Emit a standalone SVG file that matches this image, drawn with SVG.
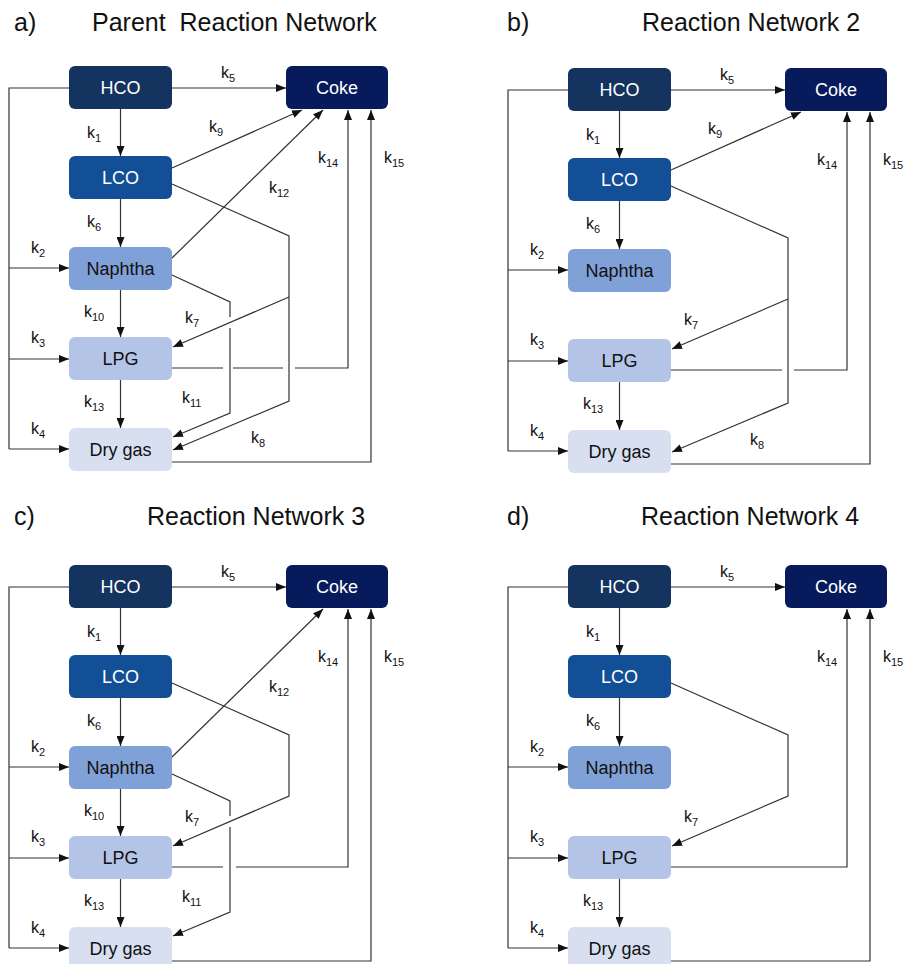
<svg xmlns="http://www.w3.org/2000/svg" width="907" height="964" viewBox="0 0 907 964">
<defs>
<marker id="ah" viewBox="0 0 10 8" refX="10" refY="4" markerWidth="10" markerHeight="8" markerUnits="userSpaceOnUse" orient="auto">
<path d="M0,0 L10,4 L0,8 z" fill="#111"/>
</marker>
<style>
.ln{fill:none;stroke:#333;stroke-width:1.2}
.ar{marker-end:url(#ah)}
.lbl{font-family:"Liberation Sans",Arial,sans-serif;font-size:16px;fill:#111}
.s{font-size:11px}
.nt{font-family:"Liberation Sans",Arial,sans-serif;font-size:18px;text-anchor:middle}
.w{fill:#fff}
.dk{fill:#111}
.ttl{font-family:"Liberation Sans",Arial,sans-serif;font-size:25px;fill:#111}
.hco{fill:#14335f}
.coke{fill:#071b5c}
.lco{fill:#134f97}
.nap{fill:#80a0d8}
.lpg{fill:#b3c4e7}
.dry{fill:#d7dff1}
</style>
</defs>
<rect width="907" height="964" fill="#fff"/>

<!-- Titles -->
<text class="ttl" x="14" y="31">a)</text>
<text class="ttl" x="92" y="31" xml:space="preserve">Parent  Reaction Network</text>
<text class="ttl" x="507" y="31">b)</text>
<text class="ttl" x="642" y="31">Reaction Network 2</text>
<text class="ttl" x="14" y="525">c)</text>
<text class="ttl" x="147" y="525">Reaction Network 3</text>
<text class="ttl" x="507" y="525">d)</text>
<text class="ttl" x="641" y="525">Reaction Network 4</text>

<!-- ========== Panel a ========== -->
<g id="panel-a">
<g id="a-connectors">
<path class="ln" d="M69,88 H9 V449"/>
<path class="ln ar" d="M9,449 H69"/>
<path class="ln ar" d="M9,268 H69"/>
<path class="ln ar" d="M9,359 H69"/>
<path class="ln ar" d="M172,88 H286"/>
<path class="ln ar" d="M120.5,109 V156"/>
<path class="ln ar" d="M120.5,199 V247"/>
<path class="ln ar" d="M120.5,290 V337"/>
<path class="ln ar" d="M120.5,380 V428"/>
<path class="ln ar" d="M172,168 L302,110"/>
<path class="ln ar" d="M172,258 L323,110"/>
<path class="ln ar" d="M172,184 L289,236 V401 L173,450"/>
<path class="ln ar" d="M289,297 L173,347"/>
<path class="ln" d="M172,275 L230,302 V317"/>
<path class="ln ar" d="M230,328 V413 L173,437"/>
<path class="ln" d="M172,368 H223 M233,368 H283"/>
<path class="ln ar" d="M295,368 H348 V110"/>
<path class="ln ar" d="M172,462 H371 V110"/>
</g>
<g id="a-labels">
<text class="lbl" x="221" y="78">k<tspan class="s" dy="4">5</tspan></text>
<text class="lbl" x="87" y="138">k<tspan class="s" dy="4">1</tspan></text>
<text class="lbl" x="209" y="132">k<tspan class="s" dy="4">9</tspan></text>
<text class="lbl" x="269" y="193">k<tspan class="s" dy="4">12</tspan></text>
<text class="lbl" x="318" y="163">k<tspan class="s" dy="4">14</tspan></text>
<text class="lbl" x="384" y="163">k<tspan class="s" dy="4">15</tspan></text>
<text class="lbl" x="87" y="227">k<tspan class="s" dy="4">6</tspan></text>
<text class="lbl" x="31" y="253">k<tspan class="s" dy="4">2</tspan></text>
<text class="lbl" x="84" y="317">k<tspan class="s" dy="4">10</tspan></text>
<text class="lbl" x="185" y="323">k<tspan class="s" dy="4">7</tspan></text>
<text class="lbl" x="31" y="343">k<tspan class="s" dy="4">3</tspan></text>
<text class="lbl" x="84" y="407">k<tspan class="s" dy="4">13</tspan></text>
<text class="lbl" x="182" y="403">k<tspan class="s" dy="4">11</tspan></text>
<text class="lbl" x="31" y="434">k<tspan class="s" dy="4">4</tspan></text>
<text class="lbl" x="251" y="443">k<tspan class="s" dy="4">8</tspan></text>
</g>
<g id="a-hco"><rect class="hco" x="69" y="66" width="103" height="43" rx="6"/><text class="nt w" x="120.5" y="94">HCO</text></g>
<g id="a-coke"><rect class="coke" x="286" y="66" width="102" height="43" rx="6"/><text class="nt w" x="337" y="94">Coke</text></g>
<g id="a-lco"><rect class="lco" x="69" y="156" width="103" height="43" rx="6"/><text class="nt w" x="120.5" y="184">LCO</text></g>
<g id="a-naphtha"><rect class="nap" x="69" y="247" width="103" height="43" rx="6"/><text class="nt dk" x="120.5" y="275">Naphtha</text></g>
<g id="a-lpg"><rect class="lpg" x="69" y="337" width="103" height="43" rx="6"/><text class="nt dk" x="120.5" y="365">LPG</text></g>
<g id="a-drygas"><rect class="dry" x="69" y="428" width="103" height="43" rx="6"/><text class="nt dk" x="120.5" y="456">Dry gas</text></g>
</g>

<!-- ========== Panel b ========== -->
<g id="panel-b" transform="translate(499,2)">
<g id="b-connectors">
<path class="ln" d="M69,88 H9 V449"/>
<path class="ln ar" d="M9,449 H69"/>
<path class="ln ar" d="M9,268 H69"/>
<path class="ln ar" d="M9,359 H69"/>
<path class="ln ar" d="M172,88 H286"/>
<path class="ln ar" d="M120.5,109 V156"/>
<path class="ln ar" d="M120.5,199 V247"/>
<path class="ln ar" d="M120.5,380 V428"/>
<path class="ln ar" d="M172,168 L302,110"/>
<path class="ln ar" d="M172,184 L289,236 V401 L173,450"/>
<path class="ln ar" d="M289,297 L173,347"/>
<path class="ln" d="M172,368 H283"/>
<path class="ln ar" d="M295,368 H348 V110"/>
<path class="ln ar" d="M172,462 H371 V110"/>
</g>
<g id="b-labels">
<text class="lbl" x="221" y="78">k<tspan class="s" dy="4">5</tspan></text>
<text class="lbl" x="87" y="138">k<tspan class="s" dy="4">1</tspan></text>
<text class="lbl" x="209" y="132">k<tspan class="s" dy="4">9</tspan></text>
<text class="lbl" x="318" y="163">k<tspan class="s" dy="4">14</tspan></text>
<text class="lbl" x="384" y="163">k<tspan class="s" dy="4">15</tspan></text>
<text class="lbl" x="87" y="227">k<tspan class="s" dy="4">6</tspan></text>
<text class="lbl" x="31" y="253">k<tspan class="s" dy="4">2</tspan></text>
<text class="lbl" x="185" y="323">k<tspan class="s" dy="4">7</tspan></text>
<text class="lbl" x="31" y="343">k<tspan class="s" dy="4">3</tspan></text>
<text class="lbl" x="84" y="407">k<tspan class="s" dy="4">13</tspan></text>
<text class="lbl" x="31" y="434">k<tspan class="s" dy="4">4</tspan></text>
<text class="lbl" x="251" y="443">k<tspan class="s" dy="4">8</tspan></text>
</g>
<g id="b-hco"><rect class="hco" x="69" y="66" width="103" height="43" rx="6"/><text class="nt w" x="120.5" y="94">HCO</text></g>
<g id="b-coke"><rect class="coke" x="286" y="66" width="102" height="43" rx="6"/><text class="nt w" x="337" y="94">Coke</text></g>
<g id="b-lco"><rect class="lco" x="69" y="156" width="103" height="43" rx="6"/><text class="nt w" x="120.5" y="184">LCO</text></g>
<g id="b-naphtha"><rect class="nap" x="69" y="247" width="103" height="43" rx="6"/><text class="nt dk" x="120.5" y="275">Naphtha</text></g>
<g id="b-lpg"><rect class="lpg" x="69" y="337" width="103" height="43" rx="6"/><text class="nt dk" x="120.5" y="365">LPG</text></g>
<g id="b-drygas"><rect class="dry" x="69" y="428" width="103" height="43" rx="6"/><text class="nt dk" x="120.5" y="456">Dry gas</text></g>
</g>

<!-- ========== Panel c ========== -->
<g id="panel-c" transform="translate(0,499)">
<g id="c-connectors">
<path class="ln" d="M69,88 H9 V449"/>
<path class="ln ar" d="M9,449 H69"/>
<path class="ln ar" d="M9,268 H69"/>
<path class="ln ar" d="M9,359 H69"/>
<path class="ln ar" d="M172,88 H286"/>
<path class="ln ar" d="M120.5,109 V156"/>
<path class="ln ar" d="M120.5,199 V247"/>
<path class="ln ar" d="M120.5,290 V337"/>
<path class="ln ar" d="M120.5,380 V428"/>
<path class="ln ar" d="M172,258 L323,110"/>
<path class="ln ar" d="M172,184 L289,236 V297 L173,347"/>
<path class="ln" d="M172,275 L230,302 V317"/>
<path class="ln ar" d="M230,328 V413 L173,437"/>
<path class="ln" d="M172,368 H223"/>
<path class="ln ar" d="M236,368 H348 V110"/>
<path class="ln ar" d="M172,462 H371 V110"/>
</g>
<g id="c-labels">
<text class="lbl" x="221" y="78">k<tspan class="s" dy="4">5</tspan></text>
<text class="lbl" x="87" y="138">k<tspan class="s" dy="4">1</tspan></text>
<text class="lbl" x="269" y="193">k<tspan class="s" dy="4">12</tspan></text>
<text class="lbl" x="318" y="163">k<tspan class="s" dy="4">14</tspan></text>
<text class="lbl" x="384" y="163">k<tspan class="s" dy="4">15</tspan></text>
<text class="lbl" x="87" y="227">k<tspan class="s" dy="4">6</tspan></text>
<text class="lbl" x="31" y="253">k<tspan class="s" dy="4">2</tspan></text>
<text class="lbl" x="84" y="317">k<tspan class="s" dy="4">10</tspan></text>
<text class="lbl" x="185" y="323">k<tspan class="s" dy="4">7</tspan></text>
<text class="lbl" x="31" y="343">k<tspan class="s" dy="4">3</tspan></text>
<text class="lbl" x="84" y="407">k<tspan class="s" dy="4">13</tspan></text>
<text class="lbl" x="182" y="403">k<tspan class="s" dy="4">11</tspan></text>
<text class="lbl" x="31" y="434">k<tspan class="s" dy="4">4</tspan></text>
</g>
<g id="c-hco"><rect class="hco" x="69" y="66" width="103" height="43" rx="6"/><text class="nt w" x="120.5" y="94">HCO</text></g>
<g id="c-coke"><rect class="coke" x="286" y="66" width="102" height="43" rx="6"/><text class="nt w" x="337" y="94">Coke</text></g>
<g id="c-lco"><rect class="lco" x="69" y="156" width="103" height="43" rx="6"/><text class="nt w" x="120.5" y="184">LCO</text></g>
<g id="c-naphtha"><rect class="nap" x="69" y="247" width="103" height="43" rx="6"/><text class="nt dk" x="120.5" y="275">Naphtha</text></g>
<g id="c-lpg"><rect class="lpg" x="69" y="337" width="103" height="43" rx="6"/><text class="nt dk" x="120.5" y="365">LPG</text></g>
<g id="c-drygas"><rect class="dry" x="69" y="428" width="103" height="43" rx="6"/><text class="nt dk" x="120.5" y="456">Dry gas</text></g>
</g>

<!-- ========== Panel d ========== -->
<g id="panel-d" transform="translate(499,499)">
<g id="d-connectors">
<path class="ln" d="M69,88 H9 V449"/>
<path class="ln ar" d="M9,449 H69"/>
<path class="ln ar" d="M9,268 H69"/>
<path class="ln ar" d="M9,359 H69"/>
<path class="ln ar" d="M172,88 H286"/>
<path class="ln ar" d="M120.5,109 V156"/>
<path class="ln ar" d="M120.5,199 V247"/>
<path class="ln ar" d="M120.5,380 V428"/>
<path class="ln ar" d="M172,184 L289,236 V297 L173,347"/>
<path class="ln ar" d="M172,368 H348 V110"/>
<path class="ln ar" d="M172,462 H371 V110"/>
</g>
<g id="d-labels">
<text class="lbl" x="221" y="78">k<tspan class="s" dy="4">5</tspan></text>
<text class="lbl" x="87" y="138">k<tspan class="s" dy="4">1</tspan></text>
<text class="lbl" x="318" y="163">k<tspan class="s" dy="4">14</tspan></text>
<text class="lbl" x="384" y="163">k<tspan class="s" dy="4">15</tspan></text>
<text class="lbl" x="87" y="227">k<tspan class="s" dy="4">6</tspan></text>
<text class="lbl" x="31" y="253">k<tspan class="s" dy="4">2</tspan></text>
<text class="lbl" x="185" y="323">k<tspan class="s" dy="4">7</tspan></text>
<text class="lbl" x="31" y="343">k<tspan class="s" dy="4">3</tspan></text>
<text class="lbl" x="84" y="407">k<tspan class="s" dy="4">13</tspan></text>
<text class="lbl" x="31" y="434">k<tspan class="s" dy="4">4</tspan></text>
</g>
<g id="d-hco"><rect class="hco" x="69" y="66" width="103" height="43" rx="6"/><text class="nt w" x="120.5" y="94">HCO</text></g>
<g id="d-coke"><rect class="coke" x="286" y="66" width="102" height="43" rx="6"/><text class="nt w" x="337" y="94">Coke</text></g>
<g id="d-lco"><rect class="lco" x="69" y="156" width="103" height="43" rx="6"/><text class="nt w" x="120.5" y="184">LCO</text></g>
<g id="d-naphtha"><rect class="nap" x="69" y="247" width="103" height="43" rx="6"/><text class="nt dk" x="120.5" y="275">Naphtha</text></g>
<g id="d-lpg"><rect class="lpg" x="69" y="337" width="103" height="43" rx="6"/><text class="nt dk" x="120.5" y="365">LPG</text></g>
<g id="d-drygas"><rect class="dry" x="69" y="428" width="103" height="43" rx="6"/><text class="nt dk" x="120.5" y="456">Dry gas</text></g>
</g>
</svg>
